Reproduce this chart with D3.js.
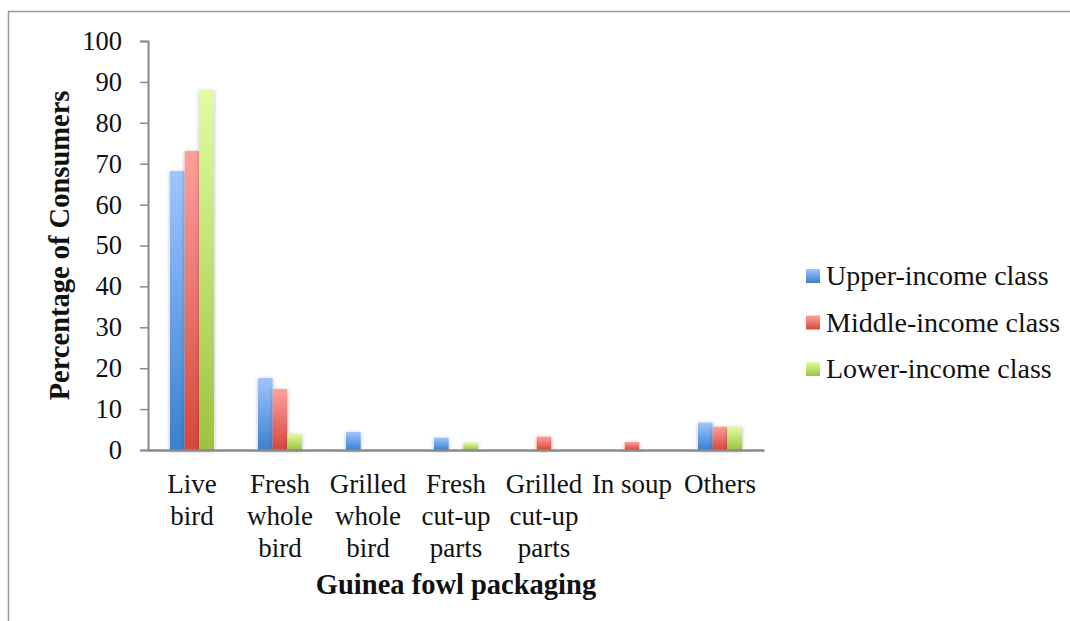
<!DOCTYPE html>
<html>
<head>
<meta charset="utf-8">
<script src="https://cdn.jsdelivr.net/npm/d3@7"></script>
<style>
  html, body { margin: 0; padding: 0; background: #fff; }
  svg { display: block; }
  text { font-family: "Liberation Serif", "DejaVu Serif", serif; fill: #111; }
</style>
</head>
<body>
<svg id="chart" width="1070" height="621"></svg>
<script>
// Packaging forms of guinea fowl bought, by income class (% of consumers)
const categories = [
  ["Live", "bird"],
  ["Fresh", "whole", "bird"],
  ["Grilled", "whole", "bird"],
  ["Fresh", "cut-up", "parts"],
  ["Grilled", "cut-up", "parts"],
  ["In soup"],
  ["Others"]
];
const seriesNames = ["Upper-income class", "Middle-income class", "Lower-income class"];
const upperIncome  = [68.2, 17.6, 4.4, 3.0, 0, 0, 6.7];
const middleIncome = [73.1, 14.9, 0, 0, 3.3, 2.0, 5.7];
const lowerIncome  = [88.0, 3.9, 0, 1.8, 0, 0, 5.7];
const yTicks = [0, 10, 20, 30, 40, 50, 60, 70, 80, 90, 100];
const xTitle = "Guinea fowl packaging";
const yTitle = "Percentage of Consumers";

const seriesValues = [upperIncome, middleIncome, lowerIncome];
const gradientStops = [
  ["#9fc5ff", "#3a80cf"],
  ["#ffa09b", "#d6473b"],
  ["#e0fda2", "#9cc340"]
];

const svg = d3.select("#chart");
const defs = svg.append("defs");

gradientStops.forEach((g, i) => {
  const lg = defs.append("linearGradient")
    .attr("id", "grad" + i)
    .attr("x1", 0).attr("y1", 0).attr("x2", 0).attr("y2", 1);
  lg.append("stop").attr("offset", "0%").attr("stop-color", g[0]);
  lg.append("stop").attr("offset", "100%").attr("stop-color", g[1]);
});

const shadow = defs.append("filter").attr("id", "shadow")
  .attr("x", "-40%").attr("y", "-20%").attr("width", "180%").attr("height", "140%");
shadow.append("feDropShadow")
  .attr("dx", 0).attr("dy", 1).attr("stdDeviation", 2)
  .attr("flood-color", "#000").attr("flood-opacity", 0.28);

// outer frame
svg.append("path")
  .attr("d", "M8.5,621 L8.5,11.5 L1070,11.5")
  .attr("fill", "none").attr("stroke", "#9a9a9a").attr("stroke-width", 1.5);

const plot = { left: 148, right: 764, top: 41, bottom: 450 };

const x0 = d3.scaleBand()
  .domain(d3.range(categories.length))
  .range([plot.left, plot.right]);
const bw = x0.bandwidth();
const x1 = d3.scaleBand()
  .domain(d3.range(seriesNames.length))
  .range([bw * 0.25, bw * 0.75]);
const y = d3.scaleLinear().domain([0, 100]).range([plot.bottom, plot.top]);

// bars
const groups = svg.append("g").selectAll("g")
  .data(categories.map((c, i) => i))
  .join("g")
  .attr("transform", i => `translate(${x0(i)},0)`);

groups.selectAll("rect")
  .data(i => seriesValues.map((s, k) => ({ k, v: s[i] })).filter(d => d.v > 0))
  .join("rect")
  .attr("x", d => x1(d.k))
  .attr("width", x1.bandwidth())
  .attr("y", d => y(d.v))
  .attr("height", d => y(0) - y(d.v))
  .attr("fill", d => `url(#grad${d.k})`)
  .attr("filter", "url(#shadow)");

// y axis
const yAxis = d3.axisLeft(y).tickValues(yTicks).tickSize(8).tickPadding(18).tickFormat(d3.format("d"));
const gy = svg.append("g")
  .attr("transform", `translate(${plot.left},0)`)
  .call(yAxis);
gy.select(".domain").attr("stroke", "#8a8a8a").attr("stroke-width", 2);
gy.selectAll(".tick line").attr("stroke", "#8a8a8a").attr("stroke-width", 1.5);
gy.selectAll(".tick text").attr("font-size", 26.5).attr("fill", "#111")
  .style("font-family", '"Liberation Serif", serif');

// x axis
const gx = svg.append("g")
  .attr("transform", `translate(0,${plot.bottom})`)
  .call(d3.axisBottom(x0).tickSize(0).tickFormat(""));
gx.select(".domain").attr("stroke", "#8a8a8a").attr("stroke-width", 2.5);

// category labels (multi-line)
const catLabels = svg.append("g").selectAll("text")
  .data(categories.map((c, i) => ({ c, i })))
  .join("text")
  .attr("text-anchor", "middle")
  .attr("font-size", 27)
  .attr("x", d => x0(d.i) + bw / 2)
  .attr("y", 493);
catLabels.selectAll("tspan")
  .data(d => d.c.map(line => ({ line, cx: x0(d.i) + bw / 2 })))
  .join("tspan")
  .attr("x", d => d.cx)
  .attr("dy", (d, j) => j === 0 ? 0 : 32)
  .text(d => d.line);

// axis titles
svg.append("text")
  .attr("x", (plot.left + plot.right) / 2)
  .attr("y", 594)
  .attr("text-anchor", "middle")
  .attr("font-size", 28.5)
  .attr("font-weight", "bold")
  .text(xTitle);

svg.append("text")
  .attr("transform", `translate(69,${(plot.top + plot.bottom) / 2}) rotate(-90)`)
  .attr("text-anchor", "middle")
  .attr("font-size", 28.5)
  .attr("font-weight", "bold")
  .text(yTitle);

// legend
const legend = svg.append("g").selectAll("g")
  .data(seriesNames.map((n, k) => ({ n, k })))
  .join("g")
  .attr("transform", d => `translate(806,${276 + d.k * 46.5})`);
legend.append("rect")
  .attr("x", 0).attr("y", -7).attr("width", 14).attr("height", 14)
  .attr("fill", d => `url(#grad${d.k})`);
legend.append("text")
  .attr("x", 20).attr("y", 9)
  .attr("font-size", 28)
  .text(d => d.n);
</script>
</body>
</html>
